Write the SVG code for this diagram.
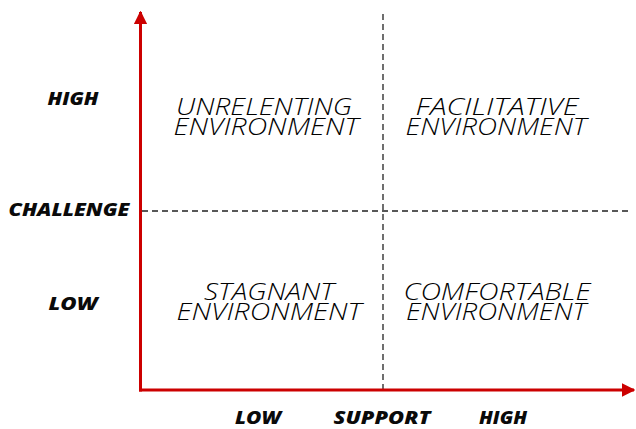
<svg xmlns="http://www.w3.org/2000/svg" width="636" height="429" viewBox="0 0 636 429">
<defs>
<style>
.q{font-family:"Open Sans","Lato",sans-serif;font-style:italic;font-weight:300;font-size:23px;fill:#000;text-anchor:middle}
.a{font-family:"Open Sans","Lato",sans-serif;font-style:italic;font-weight:800;font-size:17px;fill:#0a0a0a;text-anchor:middle}
.axis{stroke:#cc0000;stroke-width:3;fill:none}
.dash{stroke:#222;stroke-width:1.3;stroke-dasharray:6,4;fill:none}
</style>
<marker id="ah" viewBox="0 0 10 10" refX="9" refY="5" markerWidth="4.5" markerHeight="4.5" markerUnits="strokeWidth" orient="auto">
<path d="M0,0 L10,5 L0,10 z" fill="#cc0000"/>
</marker>
</defs>
<rect width="636" height="429" fill="#fff"/>
<g id="connectors">
<line class="dash" x1="383" y1="14" x2="383" y2="389"/>
<line class="dash" x1="142" y1="211" x2="632" y2="211"/>
<line class="axis" x1="140.5" y1="391.5" x2="140.5" y2="12" marker-end="url(#ah)"/>
<line class="axis" x1="139" y1="390" x2="634" y2="390" marker-end="url(#ah)"/>
</g>
<g id="q-unrelenting"><text class="q" x="264" y="115" textLength="176" lengthAdjust="spacingAndGlyphs">UNRELENTING</text><text class="q" x="266" y="135" textLength="185" lengthAdjust="spacingAndGlyphs">ENVIRONMENT</text></g>
<g id="q-facilitative"><text class="q" x="497" y="115" textLength="163" lengthAdjust="spacingAndGlyphs">FACILITATIVE</text><text class="q" x="496" y="135" textLength="181" lengthAdjust="spacingAndGlyphs">ENVIRONMENT</text></g>
<g id="q-stagnant"><text class="q" x="269" y="300" textLength="130" lengthAdjust="spacingAndGlyphs">STAGNANT</text><text class="q" x="269" y="320" textLength="185" lengthAdjust="spacingAndGlyphs">ENVIRONMENT</text></g>
<g id="q-comfortable"><text class="q" x="497" y="300" textLength="187" lengthAdjust="spacingAndGlyphs">COMFORTABLE</text><text class="q" x="496" y="320" textLength="180" lengthAdjust="spacingAndGlyphs">ENVIRONMENT</text></g>
<g id="y-high"><text class="a" x="73" y="105" textLength="51" lengthAdjust="spacingAndGlyphs">HIGH</text></g>
<g id="y-challenge"><text class="a" x="69" y="216" textLength="121" lengthAdjust="spacingAndGlyphs">CHALLENGE</text></g>
<g id="y-low"><text class="a" x="73" y="310" textLength="49" lengthAdjust="spacingAndGlyphs">LOW</text></g>
<g id="x-low"><text class="a" x="258" y="424" textLength="46" lengthAdjust="spacingAndGlyphs">LOW</text></g>
<g id="x-support"><text class="a" x="382" y="424" textLength="97" lengthAdjust="spacingAndGlyphs">SUPPORT</text></g>
<g id="x-high"><text class="a" x="503" y="424" textLength="48" lengthAdjust="spacingAndGlyphs">HIGH</text></g>
</svg>
